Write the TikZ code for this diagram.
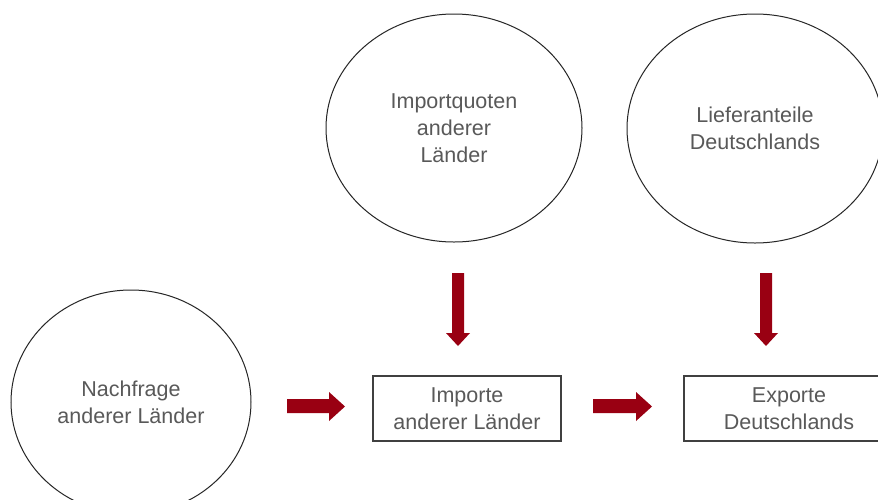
\documentclass[tikz,border=0pt]{standalone}
\usepackage{fontspec}
\setmainfont{Liberation Sans}
\usetikzlibrary{shapes.geometric}
\definecolor{txtgray}{HTML}{595959}
\definecolor{arrowred}{HTML}{990012}
\begin{document}
\begin{tikzpicture}[x=1pt,y=-1pt,
  lbl/.style={text=txtgray,font=\fontsize{21.5}{27}\selectfont,align=center},
  oval/.style={ellipse,draw=black!85,line width=1pt,lbl,inner sep=0pt},
  box/.style={rectangle,draw=black!75,line width=1.2pt,lbl,inner sep=0pt},
  blockarrow/.style={fill=arrowred,draw=none}]
\useasboundingbox (0,0) rectangle (878,499);
\clip (0,0) rectangle (878,499);
\fill[white] (0,0) rectangle (878,499);
\node[oval,minimum width=256pt,minimum height=228pt] (imq) at (454,128) {Importquoten\\anderer\\Länder};
\node[oval,minimum width=256pt,minimum height=229pt] (lief) at (755,128.5) {Lieferanteile\\Deutschlands};
\node[oval,minimum width=240pt,minimum height=224pt] (nach) at (131,402) {Nachfrage\\anderer Länder};
\node[box,minimum width=188pt,minimum height=65pt] (imp) at (467,408.5) {Importe\\anderer Länder};
\node[box,minimum width=210pt,minimum height=65pt] (exp) at (789,408.5) {Exporte\\Deutschlands};
% block arrows
\fill[blockarrow] (452,273) -- (464,273) -- (464,333) -- (470,333) -- (458,346) -- (446,333) -- (452,333) -- cycle;
\fill[blockarrow] (760,273) -- (772,273) -- (772,333) -- (778,333) -- (766,346) -- (754,333) -- (760,333) -- cycle;
\fill[blockarrow] (287,399) -- (329,399) -- (329,392) -- (345,406.5) -- (329,421) -- (329,413) -- (287,413) -- cycle;
\fill[blockarrow] (593,399) -- (636,399) -- (636,392) -- (652,406.5) -- (636,421) -- (636,413) -- (593,413) -- cycle;
\end{tikzpicture}
\end{document}
